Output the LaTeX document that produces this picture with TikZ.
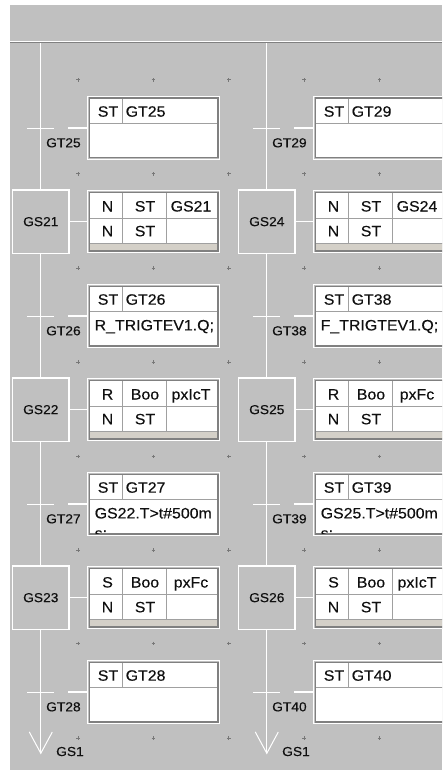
\documentclass[tikz,border=0pt]{standalone}
\usepackage{fontspec}
\setmainfont{Liberation Sans}
\newfontfamily\cellfont[FakeStretch=1.06,FakeBold=0.3]{Liberation Sans}
\usetikzlibrary{calc}
\definecolor{bg}{HTML}{C0C0C0}
\definecolor{dk}{HTML}{808080}
\definecolor{sepc}{HTML}{A0A0A0}
\definecolor{beige}{HTML}{D4D0C8}
\definecolor{txt}{HTML}{101010}
\definecolor{markc}{HTML}{787878}
\tikzset{
  wire/.style={draw=white, line width=1.3pt},
  boxnode/.style={draw=white, line width=1pt, inner sep=0pt, fill=bg},
  frame/.style={draw=dk, line width=1.5pt, fill=white},
  cellsep/.style={draw=sepc, line width=1pt},
  stepbox/.style={draw=white, line width=1.3pt, minimum width=56.6pt, minimum height=63.3pt, inner sep=0pt, font=\cellfont\fontsize{13}{15}\selectfont, text=txt},
  tlabel/.style={font=\cellfont\fontsize{13}{15}\selectfont, text=txt, inner sep=0pt},
  cell/.style={font=\cellfont\fontsize{15}{18}\selectfont, text=txt, inner sep=0pt},
  gridmark/.style={draw=markc, line width=1pt},
}
% transition box: name, X, Y, header, body line 1, body line 2
\newcommand{\tbx}[6]{%
  \begin{scope}[shift={(#2,#3)}]
    \node[boxnode, minimum width=132pt, minimum height=63pt] (#1) at (66.5,32) {};
    \draw[frame] (2.25,2.25) rectangle (130.75,61.75);
    \draw[cellsep] (3,27.5) -- (130,27.5) (35.5,3) -- (35.5,27.5);
    \node[cell, anchor=base] at (21,20.7) {ST};
    \node[cell, anchor=base west] at (38.5,20.7) {#4};
    \begin{scope}
      \clip (3,28) rectangle (130,61);
      \node[cell, anchor=base west] at (7.5,46.4) {#5};
      \node[cell, anchor=base west] at (7.5,66.4) {#6};
    \end{scope}
  \end{scope}}
% action box: name, X, Y, r1c1, r1c2, r1c3, r2c1, r2c2
\newcommand{\abx}[8]{%
  \begin{scope}[shift={(#2,#3)}]
    \node[boxnode, minimum width=132pt, minimum height=62.3pt] (#1) at (66.5,31.65) {};
    \draw[frame] (2.25,2.25) rectangle (130.75,61.05);
    \fill[beige] (3,53.3) rectangle (130,60.3);
    \draw[cellsep] (3,28.3) -- (130,28.3) (3,53.3) -- (130,53.3) (35.5,3) -- (35.5,53.3) (79,3) -- (79,53.3);
    \node[cell, anchor=base] at (20.5,21.5) {#4};
    \node[cell, anchor=base] at (58,21.5) {#5};
    \node[cell, anchor=base] at (104,21.5) {#6};
    \node[cell, anchor=base] at (20.5,46.3) {#7};
    \node[cell, anchor=base] at (58,46.3) {#8};
  \end{scope}}
% step: name, dx, index, label, r1c1, r1c2, r1c3, r2c1, r2c2
\newcommand{\stp}[9]{%
  \node[stepbox] (#1) at ({40.8+#2},{221.65+188*#3}) {#4};
  \abx{#1-a}{{87+#2}}{{190+188*#3}}{#5}{#6}{#7}{#8}{#9}
  \draw[wire] (#1.east) -- (#1.east -| #1-a.west);}
% transition: name, dx, index, label, body1, body2
\newcommand{\trn}[6]{%
  \coordinate (#1) at ({40.8+#2},{128.3+188*#3});
  \draw[wire] ([xshift=-13.6pt]#1) -- ([xshift=13.6pt]#1);
  \node[tlabel, anchor=base west] (#1-l) at ({46+#2},{147.3+188*#3}) {#4};
  \tbx{#1-b}{{87+#2}}{{96+188*#3}}{#4}{#5}{#6}
  \draw[wire] (#1-b.west) -- ([xshift=-19.4pt]#1-b.west);}
\begin{document}
\begin{tikzpicture}[x=1pt,y=-1pt]
\useasboundingbox (0,0) rectangle (442,770);
\clip (0,0) rectangle (442,770);
\fill[white] (0,0) rectangle (442,770);
\fill[bg] (10,5) rectangle (442,770);
\draw[white, line width=1pt] (10,41.5) -- (442,41.5);
\draw[dk, line width=1pt] (10,42.7) -- (442,42.7);
% grid marks
\foreach \gx in {78,153.4,228.8,304.2,379.6}
  \foreach \gy in {80,174,268,362,456.5,550,643.5,738}
    {\draw[gridmark] (\gx-1.8,\gy) -- (\gx+1.8,\gy) (\gx,\gy-1.8) -- (\gx,\gy+1.8);}
% left column
\trn{gt25}{0}{0}{GT25}{}{}
\stp{gs21}{0}{0}{GS21}{N}{ST}{GS21}{N}{ST}
\trn{gt26}{0}{1}{GT26}{R\_TRIGTEV1.Q;}{}
\stp{gs22}{0}{1}{GS22}{R}{Boo}{pxIcT}{N}{ST}
\trn{gt27}{0}{2}{GT27}{GS22.T>t\#500m}{s;}
\stp{gs23}{0}{2}{GS23}{S}{Boo}{pxFc}{N}{ST}
\trn{gt28}{0}{3}{GT28}{}{}
\coordinate (L-top) at (40.8,43.3);
\coordinate (L-tip) at (40.8,753.3);
\draw[wire] (L-top) -- (gs21.north) (gs21.south) -- (gs22.north)
  (gs22.south) -- (gs23.north) (gs23.south) -- (L-tip);
\draw[wire, line width=1pt] ([shift={(-11.6,-21.5)}]L-tip) -- (L-tip) -- ([shift={(11.5,-21.3)}]L-tip);
\node[tlabel, anchor=base west] (L-gs1) at (56,756) {GS1};
% right column
\trn{gt29}{226}{0}{GT29}{}{}
\stp{gs24}{226}{0}{GS24}{N}{ST}{GS24}{N}{ST}
\trn{gt38}{226}{1}{GT38}{F\_TRIGTEV1.Q;}{}
\stp{gs25}{226}{1}{GS25}{R}{Boo}{pxFc}{N}{ST}
\trn{gt39}{226}{2}{GT39}{GS25.T>t\#500m}{s;}
\stp{gs26}{226}{2}{GS26}{S}{Boo}{pxIcT}{N}{ST}
\trn{gt40}{226}{3}{GT40}{}{}
\coordinate (R-top) at (266.8,43.3);
\coordinate (R-tip) at (266.8,753.3);
\draw[wire] (R-top) -- (gs24.north) (gs24.south) -- (gs25.north)
  (gs25.south) -- (gs26.north) (gs26.south) -- (R-tip);
\draw[wire, line width=1pt] ([shift={(-11.6,-21.5)}]R-tip) -- (R-tip) -- ([shift={(11.5,-21.3)}]R-tip);
\node[tlabel, anchor=base west] (R-gs1) at (282,756) {GS1};
\end{tikzpicture}
\end{document}
